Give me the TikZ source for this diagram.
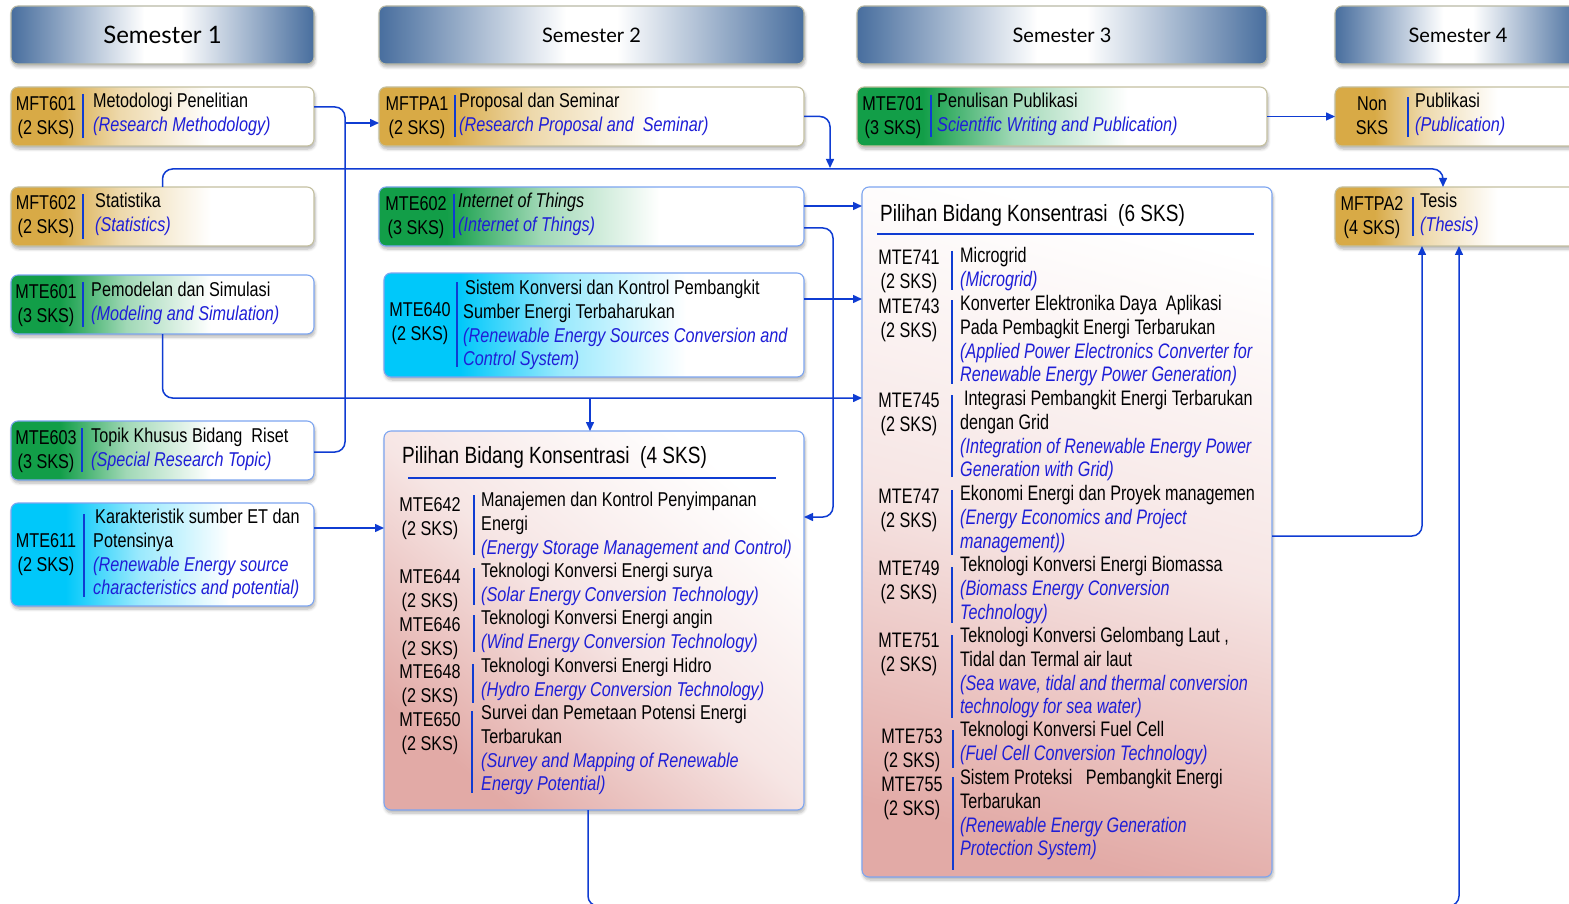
\documentclass[tikz,border=0pt]{standalone}
\usepackage{fontspec}
\setmainfont{Liberation Sans}
\newfontfamily\narw[FakeStretch=0.81]{Liberation Sans}
\newfontfamily\narx[FakeStretch=0.77]{Liberation Sans}
\newfontfamily\hfont{Lato}
\usetikzlibrary{arrows.meta,shadows.blur}

\definecolor{gold}{RGB}{216,170,70}
\definecolor{grn}{RGB}{18,158,72}
\definecolor{cyn}{RGB}{0,200,250}
\definecolor{hdr}{RGB}{72,110,158}
\definecolor{pnk}{RGB}{226,170,166}
\definecolor{lblue}{RGB}{15,60,210}
\definecolor{tblue}{RGB}{30,30,215}
\definecolor{bdgold}{RGB}{196,192,160}
\definecolor{bdblue}{RGB}{125,165,240}
\definecolor{bdhdr}{RGB}{185,185,165}

\pgfdeclarehorizontalshading{goldsh}{100bp}{color(0bp)=(gold);color(33bp)=(gold);color(43bp)=(gold!45!white);color(58bp)=(white);color(100bp)=(white)}
\pgfdeclarehorizontalshading{grnsh}{100bp}{color(0bp)=(grn);color(33bp)=(grn);color(44bp)=(grn!40!white);color(58bp)=(white);color(100bp)=(white)}
\pgfdeclarehorizontalshading{cynsh}{100bp}{color(0bp)=(cyn);color(34bp)=(cyn);color(46bp)=(cyn!40!white);color(61bp)=(white);color(100bp)=(white)}
\pgfdeclarehorizontalshading{hdrsh}{100bp}{color(0bp)=(hdr);color(25bp)=(hdr);color(47bp)=(white);color(53bp)=(white);color(75bp)=(hdr);color(100bp)=(hdr)}

\newcommand\bl[1]{{\color{tblue}\itshape #1}}

\tikzset{
  shd/.style={blur shadow={shadow xshift=1pt,shadow yshift=-3pt,shadow blur radius=3pt,shadow blur steps=6,shadow opacity=30}},
  cbox/.style={rectangle, rounded corners=7pt, anchor=north west, inner sep=0pt, outer sep=0pt, line width=1.1pt, shd},
  hbox/.style={cbox, draw=bdhdr, shade, shading=hdrsh, font=\hfont\fontsize{20}{24}\selectfont},
  goldbox/.style={cbox, draw=bdgold, shade, shading=goldsh},
  grnbox/.style={cbox, draw=bdblue, shade, shading=grnsh},
  cynbox/.style={cbox, draw=bdblue, shade, shading=cynsh},
  pilbox/.style={cbox, draw=bdblue, top color=white, bottom color=pnk, middle color=pnk!30!white},
  code/.style={anchor=north, align=center, inner sep=0pt, font=\narw\fontsize{20}{23.7}\selectfont},
  txt/.style={anchor=north west, align=left, inner sep=0pt, font=\narw\fontsize{20}{23.7}\selectfont},
  codeb/.style={code, font=\narx\fontsize{21}{23.7}\selectfont},
  txtb/.style={txt, font=\narx\fontsize{21}{23.7}\selectfont},
  ttl/.style={anchor=west, inner sep=0pt, font=\narw\fontsize{23.5}{28}\selectfont},
  bar/.style={draw=lblue, line width=1.6pt},
  uline/.style={draw=lblue, line width=1.8pt},
  conn/.style={draw=lblue, line width=1.5pt, rounded corners=10pt},
  arr/.style={conn, -{Triangle[length=9pt,width=8pt]}},
}

\begin{document}
\begin{tikzpicture}[x=1pt,y=-1pt]
\useasboundingbox (0,0) rectangle (1569,904);
\clip (0,0) rectangle (1569,904);

% ---------- headers
\node[hbox, minimum width=303pt, minimum height=58pt, font=\hfont\fontsize{24}{28}\selectfont] (sem1) at (11,6) {Semester 1};
\node[hbox, minimum width=425pt, minimum height=58pt] (sem2) at (379,6) {Semester 2};
\node[hbox, minimum width=410pt, minimum height=58pt] (sem3) at (857,6) {Semester 3};
\node[hbox, minimum width=246pt, minimum height=58pt] (sem4) at (1335,6) {Semester 4};

% ---------- semester 1
\node[goldbox, minimum width=303pt, minimum height=59pt] (mft601) at (11,87) {};
\node[code] (mft601c) at (46,94) {\strut MFT601\\(2 SKS)};
\draw[bar] (83,94) -- (83,138);
\node[txt] (mft601t) at (93,91) {\strut Metodologi Penelitian\\\bl{(Research Methodology)}};

\node[goldbox, minimum width=303pt, minimum height=59pt] (mft602) at (11,187) {};
\node[code] (mft602c) at (46,193) {\strut MFT602\\(2 SKS)};
\draw[bar] (83,194) -- (83,239);
\node[txt] (mft602t) at (95,191) {\strut Statistika\\\bl{(Statistics)}};

\node[grnbox, minimum width=303pt, minimum height=59pt] (mte601) at (11,275) {};
\node[code] (mte601c) at (46,282) {\strut MTE601\\(3 SKS)};
\draw[bar] (83,282) -- (83,327);
\node[txt] (mte601t) at (91,280) {\strut Pemodelan dan Simulasi\\\bl{(Modeling and Simulation)}};

\node[grnbox, minimum width=303pt, minimum height=59pt] (mte603) at (11,421) {};
\node[code] (mte603c) at (46,428) {\strut MTE603\\(3 SKS)};
\draw[bar] (82,428) -- (82,472);
\node[txt] (mte603t) at (91,426) {\strut Topik Khusus Bidang\ \ Riset\\\bl{(Special Research Topic)}};

\node[cynbox, minimum width=303pt, minimum height=103pt] (mte611) at (11,503) {};
\node[code] (mte611c) at (46,531) {\strut MTE611\\(2 SKS)};
\draw[bar] (84,514) -- (84,597);
\node[txt] (mte611t) at (93,507) {\strut\hspace{2pt}Karakteristik sumber ET dan\\Potensinya\\\bl{(Renewable Energy source}\\\bl{characteristics and potential)}};

% ---------- semester 2
\node[goldbox, minimum width=425pt, minimum height=59pt] (mftpa1) at (379,87) {};
\node[code] (mftpa1c) at (417,94) {\strut MFTPA1\\(2 SKS)};
\draw[bar] (455,95) -- (455,137);
\node[txt] (mftpa1t) at (459,91) {\strut Proposal dan Seminar\\\bl{(Research Proposal and\ \ Seminar)}};

\node[grnbox, minimum width=425pt, minimum height=59pt] (mte602) at (379,187) {};
\node[code] (mte602c) at (416,194) {\strut MTE602\\(3 SKS)};
\draw[bar] (454,194) -- (454,238);
\node[txt] (mte602t) at (458,191) {\strut\itshape Internet of Things\\\bl{(Internet of Things)}};

\node[cynbox, minimum width=420pt, minimum height=104pt] (mte640) at (384,273) {};
\node[code] (mte640c) at (420,300) {\strut MTE640\\(2 SKS)};
\draw[bar] (457,282) -- (457,367);
\node[txt] (mte640t) at (463,278) {\strut\hspace{2pt}Sistem Konversi dan Kontrol Pembangkit\\Sumber Energi Terbaharukan\\\bl{(Renewable Energy Sources Conversion and}\\\bl{Control System)}};

% ---------- pilihan 4 SKS
\node[pilbox, shading angle=-40, minimum width=420pt, minimum height=379pt] (pil4) at (384,431) {};
\node[ttl] (pil4t) at (402,457) {Pilihan Bidang Konsentrasi\ \ (4 SKS)};
\draw[uline] (408,478) -- (776,478);

\node[code] (c642) at (430,495) {\strut MTE642\\(2 SKS)};
\draw[bar] (474,495) -- (474,555);
\node[txt] (t642) at (481,490) {\strut Manajemen dan Kontrol Penyimpanan\\Energi\\\bl{(Energy Storage Management and Control)}};

\node[code] (c644) at (430,567) {\strut MTE644\\(2 SKS)};
\draw[bar] (474,568) -- (474,605);
\node[txt] (t644) at (481,561) {\strut Teknologi Konversi Energi surya\\\bl{(Solar Energy Conversion Technology)}};

\node[code] (c646) at (430,615) {\strut MTE646\\(2 SKS)};
\draw[bar] (474,615) -- (474,652);
\node[txt] (t646) at (481,608) {\strut Teknologi Konversi Energi angin\\\bl{(Wind Energy Conversion Technology)}};

\node[code] (c648) at (430,662) {\strut MTE648\\(2 SKS)};
\draw[bar] (473,664) -- (473,703);
\node[txt] (t648) at (481,656) {\strut Teknologi Konversi Energi Hidro\\\bl{(Hydro Energy Conversion Technology)}};

\node[code] (c650) at (430,710) {\strut MTE650\\(2 SKS)};
\draw[bar] (472,711) -- (472,793);
\node[txt] (t650) at (481,703) {\strut Survei dan Pemetaan Potensi Energi\\Terbarukan\\\bl{(Survey and Mapping of Renewable}\\\bl{Energy Potential)}};

% ---------- semester 3
\node[grnbox, draw=bdgold, minimum width=410pt, minimum height=59pt] (mte701) at (857,87) {};
\node[code] (mte701c) at (893,94) {\strut MTE701\\(3 SKS)};
\draw[bar] (931,95) -- (931,137);
\node[txt] (mte701t) at (937,91) {\strut Penulisan Publikasi\\\bl{Scientific Writing and Publication)}};

\node[pilbox, shading angle=-15, minimum width=410pt, minimum height=690pt] (pil6) at (862,187) {};
\node[ttl] (pil6t) at (880,215) {Pilihan Bidang Konsentrasi\ \ (6 SKS)};
\draw[uline] (877,234) -- (1254,234);

\node[codeb] (c741) at (909,248) {\strut MTE741\\(2 SKS)};
\draw[bar] (952,251) -- (952,290);
\node[txtb] (t741) at (960,246) {\strut Microgrid\\\bl{(Microgrid)}};

\node[codeb] (c743) at (909,297) {\strut MTE743\\(2 SKS)};
\draw[bar] (952,300) -- (952,384);
\node[txtb] (t743) at (960,294) {\strut Konverter Elektronika Daya\ \ Aplikasi\\Pada Pembagkit Energi Terbarukan\\\bl{(Applied Power Electronics Converter for}\\\bl{Renewable Energy Power Generation)}};

\node[codeb] (c745) at (909,391) {\strut MTE745\\(2 SKS)};
\draw[bar] (952,395) -- (952,477);
\node[txtb] (t745) at (960,389) {\strut\hspace{4pt}Integrasi Pembangkit Energi Terbarukan\\dengan Grid\\\bl{(Integration of Renewable Energy Power}\\\bl{Generation with Grid)}};

\node[codeb] (c747) at (909,487) {\strut MTE747\\(2 SKS)};
\draw[bar] (952,490) -- (952,555);
\node[txtb] (t747) at (960,484) {\strut Ekonomi Energi dan Proyek managemen\\\bl{(Energy Economics and Project}\\\bl{management))}};

\node[codeb] (c749) at (909,559) {\strut MTE749\\(2 SKS)};
\draw[bar] (952,567) -- (952,623);
\node[txtb] (t749) at (960,555) {\strut Teknologi Konversi Energi Biomassa\\\bl{(Biomass Energy Conversion}\\\bl{Technology)}};

\node[codeb] (c751) at (909,631) {\strut MTE751\\(2 SKS)};
\draw[bar] (952,635) -- (952,718);
\node[txtb] (t751) at (960,626) {\strut Teknologi Konversi Gelombang Laut ,\\Tidal dan Termal air laut\\\bl{(Sea wave, tidal and thermal conversion}\\\bl{technology for sea water)}};

\node[codeb] (c753) at (912,727) {\strut MTE753\\(2 SKS)};
\draw[bar] (953,730) -- (953,768);
\node[txtb] (t753) at (960,720) {\strut Teknologi Konversi Fuel Cell\\\bl{(Fuel Cell Conversion Technology)}};

\node[codeb] (c755) at (912,775) {\strut MTE755\\(2 SKS)};
\draw[bar] (953,777) -- (953,870);
\node[txtb] (t755) at (960,768) {\strut Sistem Proteksi\ \ \ Pembangkit Energi\\Terbarukan\\\bl{(Renewable Energy Generation}\\\bl{Protection System)}};

% ---------- semester 4
\node[goldbox, minimum width=246pt, minimum height=59pt] (nonsks) at (1335,87) {};
\node[code] (nonsksc) at (1372,94) {\strut Non\\SKS};
\draw[bar] (1408,97) -- (1408,137);
\node[txt] (nonskst) at (1415,91) {\strut Publikasi\\\bl{(Publication)}};

\node[goldbox, minimum width=246pt, minimum height=59pt] (mftpa2) at (1335,187) {};
\node[code] (mftpa2c) at (1372,194) {\strut MFTPA2\\(4 SKS)};
\draw[bar] (1413,197) -- (1413,236);
\node[txt] (mftpa2t) at (1420,191) {\strut Tesis\\\bl{(Thesis)}};

% ---------- connectors
\coordinate (j1) at (345,123);
\draw[conn] ([yshift=9.5pt]mft601.east) -- ++(31,0) |- ([yshift=-1.5pt]mte603.east);
\draw[arr] (j1) -- (j1 -| mftpa1.west);

\coordinate (j2) at (830,168);
\draw[arr] (mftpa1.east) -| (j2);

\coordinate (h1) at (1443,169);
\draw[arr] (mft602.north) |- (h1) -- (h1 |- mftpa2.north);

\draw[arr] (mte701.east) -- (nonsks.west);

\coordinate (sa) at ([yshift=10.5pt]mte602.east);
\draw[arr] (sa) -- (sa -| pil6.west);
\coordinate (sb) at ([yshift=-11.5pt]mte602.east);
\coordinate (tb) at ([yshift=103.5pt]pil4.east);
\draw[arr] (sb) -- ++(29,0) |- (tb);

\coordinate (s640) at ([yshift=26pt]mte640.east);
\draw[arr] (s640) -- (s640 -| pil6.west);

\coordinate (j5) at (590,398);
\draw[arr] (mte601.south) |- (j5 -| pil6.west);
\draw[arr] (j5) -- (j5 |- pil4.north);

\coordinate (s611) at ([yshift=26.5pt]mte611.east);
\draw[arr] (s611) -- (s611 -| pil4.west);

\coordinate (s6) at ([yshift=-4pt]pil6.east);
\coordinate (x6) at (1422,246);
\draw[arr] (s6) -| (x6 |- mftpa2.south);

\coordinate (s4) at ([xshift=-6pt]pil4.south);
\coordinate (b4) at (1459,906);
\draw[arr] (s4) |- (b4) -- (b4 |- mftpa2.south);
\end{tikzpicture}
\end{document}
